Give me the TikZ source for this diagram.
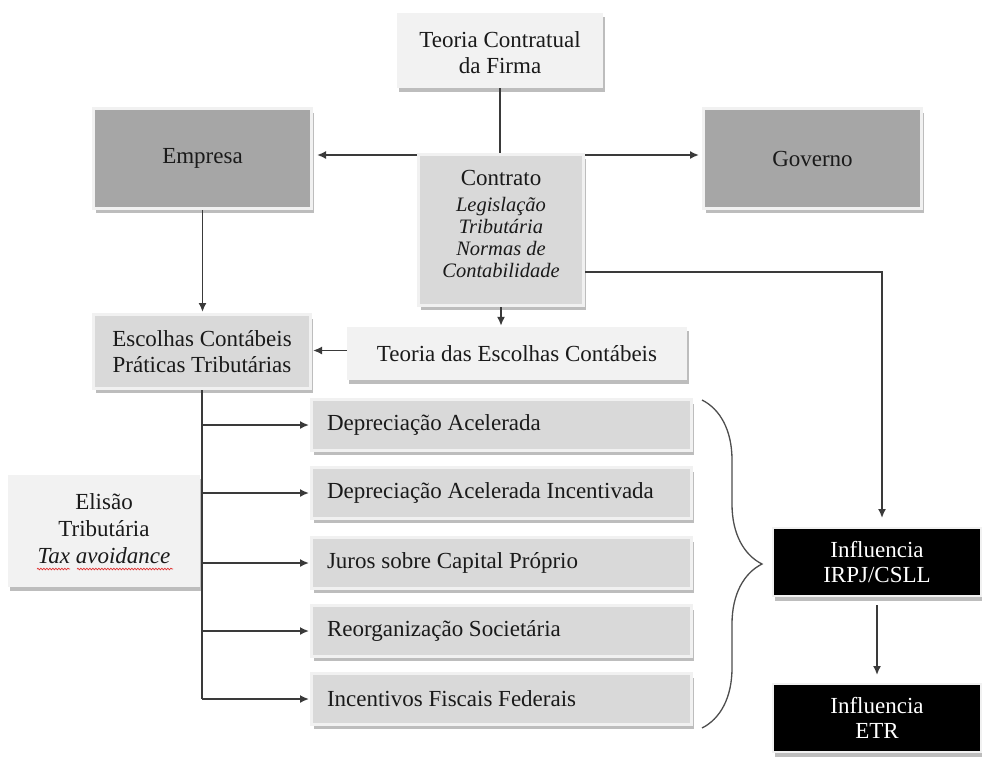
\documentclass[tikz,border=0pt]{standalone}
\usepackage{fontspec}
\setmainfont{Liberation Serif}
\usetikzlibrary{arrows.meta,shadows,decorations.pathreplacing,decorations.pathmorphing,calc}
\definecolor{lightbox}{HTML}{F2F2F2}
\definecolor{framec}{HTML}{F1F1F1}
\definecolor{midbox}{HTML}{D9D9D9}
\definecolor{darkbox}{HTML}{A6A6A6}
\definecolor{shadowc}{HTML}{BDBDBD}
\definecolor{linec}{HTML}{3A3A3A}
\definecolor{textc}{HTML}{1A1A1A}
\definecolor{squig}{HTML}{E03030}
\begin{document}
\begin{tikzpicture}[x=1pt,y=-1pt,
  txt/.style={align=center, text=textc, inner sep=0pt, font=\fontsize{23}{25.5}\selectfont},
  lightbx/.style={rectangle, fill=lightbox, inner sep=0pt, txt,
    drop shadow={shadow xshift=2pt, shadow yshift=-3.5pt, fill=shadowc, opacity=1}},
  framebx/.style={rectangle, draw=framec, line width=3pt, fill=#1, inner sep=0pt, txt,
    drop shadow={shadow xshift=2.5pt, shadow yshift=-4.5pt, fill=shadowc, opacity=1}},
  blackbx/.style={rectangle, draw=framec, line width=2pt, fill=black, inner sep=0pt, txt, text=white,
    drop shadow={shadow xshift=2pt, shadow yshift=-5pt, fill=shadowc, opacity=1}},
  itemtext/.style={rectangle, draw=framec, line width=3pt, fill=midbox, inner sep=0pt,
    text=textc, font=\fontsize{23}{25.5}\selectfont,
    minimum width=380pt, minimum height=51pt,
    drop shadow={shadow xshift=2.5pt, shadow yshift=-4.5pt, fill=shadowc, opacity=1}},
  ln/.style={draw=linec, line width=1.7pt},
  arr/.style={ln, -{Latex[length=9pt,width=8pt]}},
]
\useasboundingbox (0,0) rectangle (982,758);
\fill[white] (0,0) rectangle (982,758);

% boxes
\node[lightbx, minimum width=206pt, minimum height=75pt] (tcf) at (500,50.5) {};
\node[txt] (tcftxt) at (500,52.5) {Teoria Contratual\\da Firma};
\node[framebx=darkbox, minimum width=218pt, minimum height=100pt] (emp) at (202.5,158.5) {Empresa};
\node[framebx=darkbox, minimum width=218pt, minimum height=100pt] (gov) at (812.5,158.5) {Governo};
\node[framebx=midbox, minimum width=165pt, minimum height=151pt] (con) at (501,230) {};
\node[txt] (contxt) at (501,178) {Contrato};
\node[txt, font=\itshape\fontsize{20.5}{22}\selectfont] (contxt2) at (501,237) {Legislação\\Tributária\\Normas de\\Contabilidade};
\node[lightbx, minimum width=340pt, minimum height=53pt] (tec) at (517,353.5) {Teoria das Escolhas Contábeis};
\node[framebx=midbox, minimum width=217pt, minimum height=74pt] (esc) at (202,351.5) {Escolhas Contábeis\\Práticas Tributárias};

\node[itemtext] (d1) at (501.5,425) {\makebox[349pt][l]{Depreciação Acelerada}};
\node[itemtext] (d2) at (501.5,493) {\makebox[349pt][l]{Depreciação Acelerada Incentivada}};
\node[itemtext] (d3) at (501.5,563) {\makebox[349pt][l]{Juros sobre Capital Próprio}};
\node[itemtext] (d4) at (501.5,631) {\makebox[349pt][l]{Reorganização Societária}};
\node[itemtext] (d5) at (501.5,699) {\makebox[349pt][l]{Incentivos Fiscais Federais}};

\node[lightbx, minimum width=192pt, minimum height=112pt] (eli) at (104,531) {};
\node[txt, font=\fontsize{23}{27}\selectfont] (elitxt) at (104,529) {Elisão\\Tributária\\\textit{Tax avoidance}};
\draw[squig, line width=0.7pt, decorate, decoration={snake, segment length=3pt, amplitude=0.8pt}] (37,569) -- (70,569);
\draw[squig, line width=0.7pt, decorate, decoration={snake, segment length=3pt, amplitude=0.8pt}] (77,569) -- (173,569);

\node[blackbx, minimum width=208pt, minimum height=68pt] (irpj) at (877,562) {Influencia\\IRPJ/CSLL};
\node[blackbx, minimum width=208pt, minimum height=68pt] (etr) at (877,718) {Influencia\\ETR};

% connectors
\draw[ln] (tcf.south) -- (tcf.south |- con.north);
\draw[arr, shorten >=4pt] ([yshift=-2pt]con.north west) -- ([yshift=-2pt]con.north west -| emp.east);
\draw[arr, shorten >=3pt] ([yshift=-2pt]con.north east) -- ([yshift=-2pt]con.north east -| gov.west);
\coordinate (turn) at (882,272);
\draw[arr, shorten >=9pt] (con.east |- turn) -- (turn) -- (turn |- irpj.north);
\draw[arr, shorten >=1pt] (con.south) -- (con.south |- tec.north);
\draw[arr, shorten >=1pt] ([yshift=3pt]tec.west) -- ([yshift=3pt]tec.west -| esc.east);
\draw[arr, shorten >=1pt] (emp.south) -- (emp.south |- esc.north);
\draw[ln] (esc.south) -- (esc.south |- d5.west);
\foreach \d in {d1,d2,d3,d4,d5}{
  \draw[arr, shorten >=1pt] (esc.south |- \d.west) -- (\d.west);
}
\draw[arr, shorten >=8pt] ([yshift=-8pt]irpj.south) -- (etr.north);

% brace
\coordinate (bt) at (702,400);
\coordinate (bb) at (702,728);
\draw[draw=linec!90, line width=1.3pt, decorate, decoration={brace, amplitude=60pt}] (bt) -- (bb);
\end{tikzpicture}
\end{document}
